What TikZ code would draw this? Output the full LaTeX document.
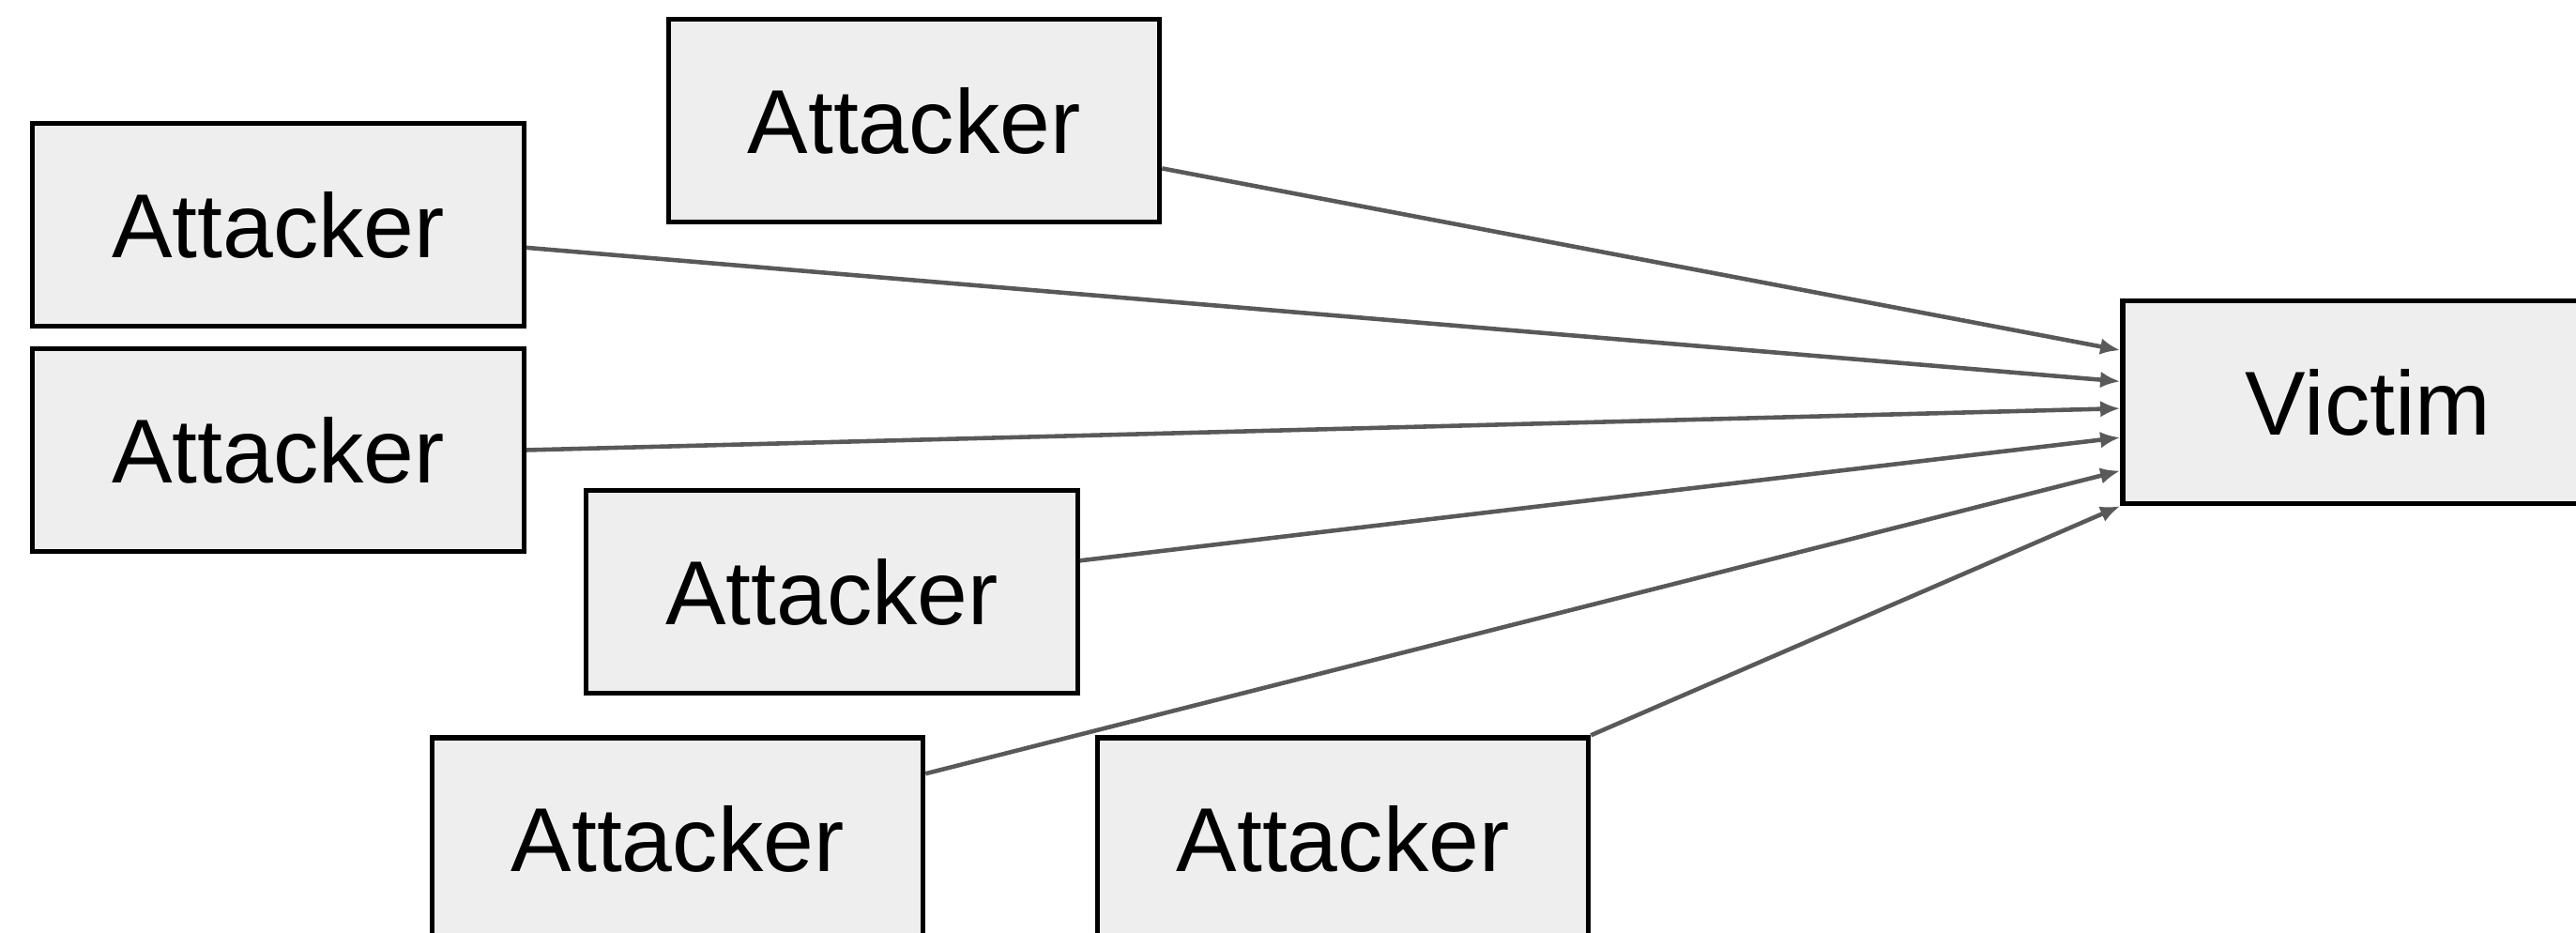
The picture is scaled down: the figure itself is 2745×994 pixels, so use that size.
\documentclass[tikz,border=0pt]{standalone}
\usepackage{fontspec}
\setmainfont{Liberation Sans}
\usepackage{tikz}
\usetikzlibrary{arrows.meta, calc}

\begin{document}
\begin{tikzpicture}[x=0.01cm, y=-0.01cm,
	box/.style={draw, line width=1.5pt, fill={rgb,255:red,238;green,238;blue,238},
		minimum width=5.23cm, minimum height=2.16cm, inner sep=0pt,
		font=\fontsize{27.5}{30}\selectfont},
	hit/.style={draw={rgb,255:red,89;green,89;blue,89}, line width=1.3pt,
		arrows={-Latex[length=6pt, width=5pt]}}]
	\useasboundingbox (0,0) rectangle (2745,994);
	\node [box] (a1) at (974,128.5) {Attacker};
	\node [box] (a2) at (296.5,239.5) {Attacker};
	\node [box] (a3) at (296.5,479.5) {Attacker};
	\node [box] (a4) at (886.5,630.5) {Attacker};
	\node [box] (a5) at (722,894) {Attacker};
	\node [box] (a6) at (1431,894) {Attacker};
	\node [box] (victim) at (2523.5,428.5) {Victim};
	% where the lines leave and hit
	\draw [hit] ($(a1.north east)!0.73!(a1.south east)$) -- ($(victim.north west)!0.25!(victim.south west)$);
	\draw [hit] ($(a2.north east)!0.61!(a2.south east)$) -- ($(victim.north west)!0.4!(victim.south west)$);
	\draw [hit] (a3.east) -- ($(victim.north west)!0.53!(victim.south west)$);
	\draw [hit] ($(a4.north east)!0.35!(a4.south east)$) -- ($(victim.north west)!0.67!(victim.south west)$);
	\draw [hit] ($(a5.north east)!0.185!(a5.south east)$) -- ($(victim.north west)!0.83!(victim.south west)$);
	\draw [hit] (a6.north east) -- (victim.south west);
\end{tikzpicture}
\end{document}
